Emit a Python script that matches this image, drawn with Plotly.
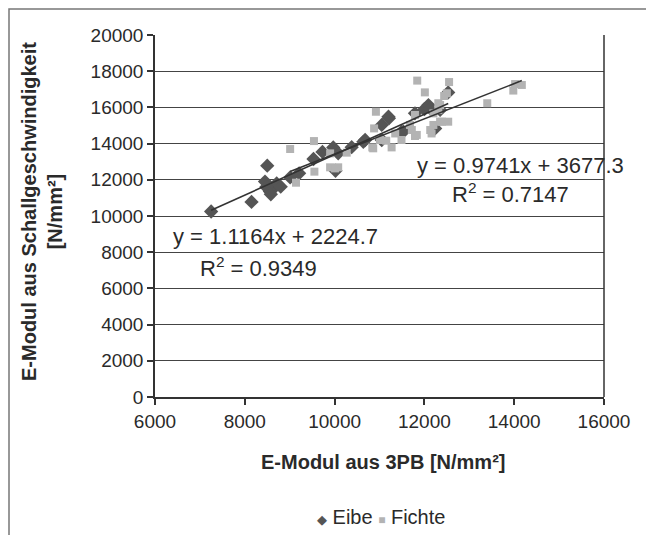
import plotly.graph_objects as go

# ---- data ----
eibe_x = [7250, 8150, 8500, 8450, 8560, 8640, 8710, 8800, 8480, 8580, 9010, 9210, 9530, 9730,
          9970, 10080, 10020, 10380, 10640, 10680, 11050, 11050, 11210, 11200, 11490, 11530,
          11790, 12000, 12090, 12130, 12240, 12350, 12530]
eibe_y = [10250, 10780, 12780, 11900, 11350, 11530, 11800, 11620, 11600, 11200, 12130, 12360, 13150, 13540,
          13790, 13460, 12500, 13800, 14100, 14200, 15030, 14200, 15400, 15490, 14650, 14660,
          15670, 15900, 16130, 15950, 14840, 15860, 16830]

fichte_x = [9010, 9540, 9550, 9140, 9900, 10080, 9900, 10270, 10010, 10840, 10920, 10880, 11010, 11150,
            11270, 11350, 10860, 11490, 11680, 11720, 11790, 11790, 11840, 12010, 12130, 12160, 12200,
            12200, 12310, 12350, 12350, 12390, 12440, 12500, 12530, 12550, 12310, 11830, 13400, 13980,
            14020, 14170]
fichte_y = [13700, 14140, 12450, 11840, 12690, 12690, 13460, 13500, 12630, 13790, 15760, 14840, 14200, 14160,
            13790, 14560, 13740, 14200, 15030, 14750, 14420, 15580, 17480, 16830, 14750, 14560, 15030,
            15670, 16230, 16130, 15210, 15210, 16630, 16780, 15210, 17400, 15860, 14480, 16230, 16930,
            17290, 17240]

# trendline coefficients as printed on the chart
eibe_slope, eibe_intercept, eibe_r2 = 1.1164, 2224.7, 0.9349
fichte_slope, fichte_intercept, fichte_r2 = 0.9741, 3677.3, 0.7147

x_ticks = [6000, 8000, 10000, 12000, 14000, 16000]
y_ticks = [0, 2000, 4000, 6000, 8000, 10000, 12000, 14000, 16000, 18000, 20000]

FONT = "Liberation Sans, Arial, sans-serif"
TXT = "#2a2a2a"
DARK = "#555555"
LIGHT = "#b3b3b3"
LINE = "#333333"

OFF = 8  # default page body margin
W, H = 654 - OFF, 535 - OFF
L, T = 155 - OFF, 35 - OFF
pw, ph = 449, 362
R, B = W - L - pw, H - T - ph
def px(x):
    return (x - OFF - L) / pw
def py(y):
    return (H - B - (y - OFF)) / ph

fig = go.Figure()

fig.add_trace(go.Scatter(x=eibe_x, y=eibe_y, mode="markers", name="Eibe",
                         marker=dict(symbol="diamond", size=11, color=DARK, line=dict(width=0))))
fig.add_trace(go.Scatter(x=fichte_x, y=fichte_y, mode="markers", name="Fichte",
                         marker=dict(symbol="square", size=8, color=LIGHT, line=dict(width=0))))

ex = [min(eibe_x), max(eibe_x)]
fig.add_trace(go.Scatter(x=ex, y=[eibe_slope * v + eibe_intercept for v in ex], mode="lines",
                         line=dict(color=LINE, width=1.6), showlegend=False, hoverinfo="skip"))
fx = [min(fichte_x), max(fichte_x)]
fig.add_trace(go.Scatter(x=fx, y=[fichte_slope * v + fichte_intercept for v in fx], mode="lines",
                         line=dict(color=LINE, width=1.6), showlegend=False, hoverinfo="skip"))

eq_font = dict(family=FONT, size=22, color=TXT)
annots = [
    (f"y = {fichte_slope}x + {fichte_intercept}", 520, 165),
    (f"R<sup>2</sup> = {fichte_r2}", 510, 193),
    (f"y = {eibe_slope}x + {eibe_intercept}", 275, 236),
    (f"R<sup>2</sup> = {eibe_r2}", 258, 267),
]
for txt, x, y in annots:
    fig.add_annotation(x=px(x), y=py(y), xref="paper", yref="paper", text=txt, showarrow=False,
                       font=eq_font, xanchor="center", yanchor="middle")

# y-axis title (two lines)
fig.add_annotation(x=px(42), y=py(212), xref="paper", yref="paper",
                   text="<b>E-Modul aus Schallgeschwindigkeit</b><br><b>[N/mm²]</b>",
                   textangle=-90, showarrow=False, font=dict(family=FONT, size=20, color=TXT),
                   xanchor="center", yanchor="middle")
# x-axis title
fig.add_annotation(x=px(383), y=py(462), xref="paper", yref="paper",
                   text="<b>E-Modul aus 3PB [N/mm²]</b>", showarrow=False,
                   font=dict(family=FONT, size=20, color=TXT), xanchor="center", yanchor="middle")

# legend (compact, as in the reference)
fig.add_annotation(x=px(381), y=py(517), xref="paper", yref="paper",
                   text=(f"<span style='color:{DARK};font-size:13px'>◆</span> Eibe "
                         f"<span style='color:{LIGHT};font-size:12px'>■</span> Fichte"),
                   showarrow=False, font=dict(family=FONT, size=20, color=TXT),
                   xanchor="center", yanchor="middle")

# outer frame
fig.add_shape(type="rect", xref="paper", yref="paper", x0=px(9), x1=px(651), y0=py(560), y1=py(9),
              line=dict(color="#777777", width=1.5), fillcolor="rgba(0,0,0,0)", layer="below")

fig.update_layout(
    width=W, height=H,
    margin=dict(l=L, r=R, t=T, b=B),
    paper_bgcolor="white", plot_bgcolor="white",
    font=dict(family=FONT, size=19, color=TXT),
    showlegend=False,
)
fig.update_xaxes(range=[6000, 16000], tickvals=x_ticks, ticktext=[str(v) for v in x_ticks],
                 showgrid=False, zeroline=False, showline=True, linecolor="#333333", linewidth=1.5,
                 mirror=False, ticks="outside", ticklen=6, tickcolor="#333333", tickwidth=1.5,
                 tickfont=dict(size=19))
fig.update_yaxes(range=[0, 20000], tickvals=y_ticks, ticktext=[str(v) for v in y_ticks],
                 showgrid=True, gridcolor="#444444", gridwidth=1.3, zeroline=False,
                 showline=True, linecolor="#333333", linewidth=1.5, ticks="outside", ticklen=6,
                 tickcolor="#333333", tickwidth=1.5, tickfont=dict(size=19))
# right border of plot area
fig.add_shape(type="line", xref="paper", yref="paper", x0=1, x1=1, y0=0, y1=1,
              line=dict(color="#333333", width=1.5))

fig.write_html("out.html")
